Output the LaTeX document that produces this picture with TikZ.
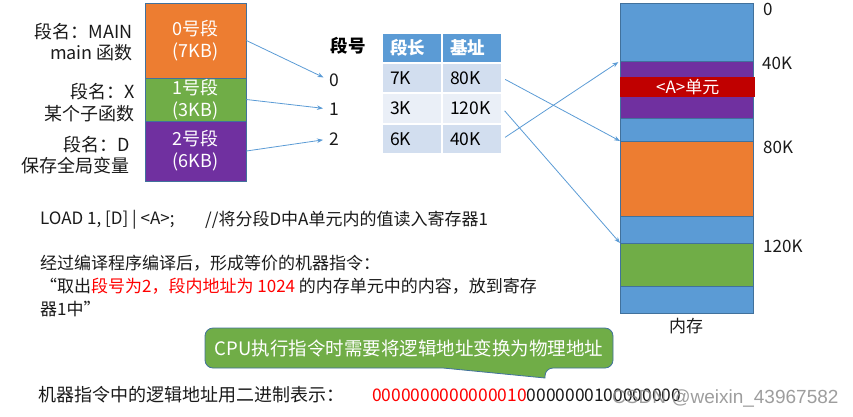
\documentclass[tikz,border=0pt]{standalone}
\usepackage{fontspec}
\setmainfont{Noto Sans CJK SC}
\newfontfamily\wmfont{Liberation Sans}
\usetikzlibrary{arrows.meta}
\definecolor{segorange}{HTML}{ED7D31}
\definecolor{seggreen}{HTML}{70AD47}
\definecolor{segpurple}{HTML}{7030A0}
\definecolor{memblue}{HTML}{5B9BD5}
\definecolor{edgeblue}{HTML}{41719C}
\definecolor{unitred}{HTML}{C00000}
\definecolor{hdrblue}{HTML}{5B9BD5}
\definecolor{rowa}{HTML}{D2DEEF}
\definecolor{rowb}{HTML}{EAEFF7}
\definecolor{linkblue}{HTML}{5B9BD5}
\definecolor{txtred}{HTML}{FF0000}
\definecolor{wmgray}{HTML}{8C8C8C}
\definecolor{txtgray}{HTML}{1A1A1A}
\begin{document}
\begin{tikzpicture}[x=1pt,y=-1pt,
  txt/.style={inner sep=0pt, text=txtgray, font=\fontsize{17}{21}\selectfont},
  lbl/.style={inner sep=0pt, text=txtgray, font=\fontsize{18}{21.5}\selectfont, align=right, anchor=east},
  segbox/.style={draw=edgeblue, line width=0.8pt, minimum width=101pt, inner sep=0pt, text=white, align=center, font=\fontsize{18}{22}\selectfont},
  cell/.style={draw=white, line width=1.2pt, minimum height=30pt, text width=44pt, inner xsep=8pt, inner ysep=0pt, align=left, font=\fontsize{17.5}{20}\selectfont},
  hcell/.style={cell, fill=hdrblue, text=white, font=\fontsize{17.5}{20}\selectfont\bfseries},
  band/.style={draw=edgeblue, line width=0.6pt, minimum width=133pt, inner sep=0pt, anchor=north west},
  link/.style={draw=linkblue, line width=0.8pt, -{Stealth[length=6pt,width=4.5pt]}},
  memlbl/.style={inner sep=0pt, text=txtgray, font=\fontsize{17}{20}\selectfont, anchor=west},
  callout/.style={fill=seggreen, draw=edgeblue, line width=0.8pt},
]
\useasboundingbox (0,0) rectangle (853,416);

% segments
\node[segbox, fill=segorange, minimum height=75pt] (s0) at (195.5,40.5) {0号段\\(7KB)};
\node[segbox, fill=seggreen, minimum height=43pt] (s1) at (195.5,99.5) {1号段\\(3KB)};
\node[segbox, fill=segpurple, minimum height=60pt] (s2) at (195.5,151) {2号段\\(6KB)};

\node[lbl] (l0) at (133,42) {段名：MAIN\\main 函数};
\node[lbl] (l1) at (135,102.5) {段名：X\\某个子函数};
\node[lbl] (l2) at (130,155) {段名：D\\保存全局变量};

% segment numbers
\node[txt, font=\fontsize{17.5}{20}\selectfont\bfseries, text=black] (hno) at (348,46) {段号};
\node[txt, font=\fontsize{17.5}{20}\selectfont] (n0) at (334,80) {0};
\node[txt, font=\fontsize{17.5}{20}\selectfont] (n1) at (334,109) {1};
\node[txt, font=\fontsize{17.5}{20}\selectfont] (n2) at (334,139) {2};

\draw[link, shorten >=6pt] (s0.east) -- (n0.west);
\draw[link, shorten >=6pt] (s1.east) -- (n1.west);
\draw[link, shorten >=6pt] (s2.east) -- (n2.west);

% table
\node[hcell] (h1) at (412,48) {段长};
\node[hcell] (h2) at (472,48) {基址};
\node[cell, fill=rowa] (r0a) at (412,78) {7K};
\node[cell, fill=rowa] (r0b) at (472,78) {80K};
\node[cell, fill=rowb, minimum height=31pt] (r1a) at (412,108.5) {3K};
\node[cell, fill=rowb, minimum height=31pt] (r1b) at (472,108.5) {120K};
\node[cell, fill=rowa] (r2a) at (412,139) {6K};
\node[cell, fill=rowa] (r2b) at (472,139) {40K};

% memory
\node[band, fill=memblue, minimum height=58pt] (m0) at (620,3) {};
\node[band, fill=segpurple, minimum height=57pt] (mD) at (620,61) {};
\node[band, fill=unitred, draw=none, minimum width=135pt, minimum height=20pt, text=white, font=\fontsize{17}{20}\selectfont] (mA) at (620,77) {<A>单元};
\node[band, fill=memblue, minimum height=23pt] (m1) at (620,118) {};
\node[band, fill=segorange, minimum height=75pt] (mO) at (620,141) {};
\node[band, fill=memblue, minimum height=27pt] (m2) at (620,216) {};
\node[band, fill=seggreen, minimum height=43pt] (mG) at (620,243) {};
\node[band, fill=memblue, minimum height=27pt] (m3) at (620,286) {};

\node[memlbl] (a0) at (763,9) {0};
\node[memlbl] (a40) at (762,63) {40K};
\node[memlbl] (a80) at (763,147) {80K};
\node[memlbl] (a120) at (763,246) {120K};
\node[txt, font=\fontsize{17}{20}\selectfont] (mem) at (686,326) {内存};

\draw[link, shorten <=3pt] (r0b.east) -- (mO.north west);
\draw[link, shorten <=3pt] (r1b.east) -- (mG.north west);
\draw[link, shorten <=3pt, shorten >=2pt] (r2b.east) -- (mD.north west);

% instruction text
\node[txt, anchor=west] (load) at (40,220) {LOAD 1, [D] | <A>;};
\node[txt, anchor=west] (cmt) at (205,220) {//将分段D中A单元内的值读入寄存器1};
\node[txt, anchor=west] (t1) at (40,263) {经过编译程序编译后，形成等价的机器指令：};
\node[txt, anchor=west] (t2) at (40,286) {“取出{\color{txtred}段号为2，段内地址为 1024} 的内存单元中的内容，放到寄存};
\node[txt, anchor=west] (t3) at (40,309) {器1中”};

% callout
\draw[callout] (205,348) [rounded corners=8pt] |- (613,328) |- (545,368) [sharp corners] -- (545,378) -- (443,368) [rounded corners=8pt] -| (205,348) -- cycle;
\node[txt, text=white, font=\fontsize{18.5}{22}\selectfont] (cpu) at (409,348) {CPU执行指令时需要将逻辑地址变换为物理地址};

% bottom line
\node[txt, anchor=west, font=\fontsize{18}{21}\selectfont] (bin) at (38,395) {机器指令中的逻辑地址用二进制表示：};
\node[txt, anchor=west, font=\fontsize{17.4}{21}\selectfont] (bits) at (372,395) {{\color{txtred}0000000000000010}0000000100000000};

% watermark
\node[inner sep=0pt, anchor=west, text=wmgray, opacity=0.85, font=\wmfont\fontsize{19}{22}\selectfont] (wm) at (612,398) {CSDN @weixin\_43967582};
\end{tikzpicture}
\end{document}
